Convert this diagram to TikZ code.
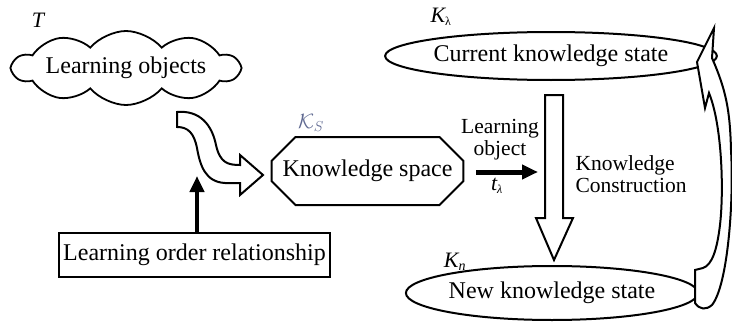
\documentclass[tikz,border=0pt]{standalone}
\usepackage{fontspec}
\setmainfont{Liberation Serif}
\usetikzlibrary{shapes.symbols,shapes.misc,shapes.geometric,arrows.meta}
\definecolor{ksblue}{RGB}{95,105,145}
\begin{document}
\begin{tikzpicture}[x=1pt,y=-1pt,
  maintext/.style={font=\fontsize{24}{28}\selectfont},
  smalltext/.style={font=\fontsize{21.5}{24}\selectfont},
  lbl/.style={font=\fontsize{22}{24}\selectfont\itshape},
  hollow/.style={draw=black,line width=2pt,fill=white,line join=miter},
  solidarrow/.style={line width=4pt,-{Triangle[length=16pt,width=14pt]}},
]
\useasboundingbox (0,0) rectangle (732,324);

% cloud
\node[cloud, cloud puffs=10, cloud puff arc=100, cloud ignores aspect,
      draw, line width=1.8pt, minimum width=226pt, minimum height=74pt,
      inner sep=0pt, maintext] (lo) at (126,68) {Learning objects};
\node[lbl] (tl) at (38,20) {T};

% knowledge space
\node[chamfered rectangle, chamfered rectangle xsep=13pt, chamfered rectangle ysep=13pt,
      draw, line width=2pt, minimum width=185pt, minimum height=68pt,
      inner sep=0pt, maintext] (ks) at (367.5,171) {Knowledge space};
\node[font=\fontsize{22}{24}\selectfont, text=ksblue] (ksl) at (311,123) {$\mathcal{K}_S$};

% learning order relationship
\node[draw, line width=2pt, minimum width=271pt, minimum height=44pt,
      inner sep=0pt, maintext] (lor) at (194.5,255) {Learning order relationship};
\coordinate (uptip) at (197,176);
\draw[solidarrow] (lor.north -| uptip) -- (uptip);

% curved hollow arrow
\draw[hollow] (177,112) .. controls (200,110) and (212,125) .. (216,145)
  .. controls (220,163) and (228,165) .. (240,165) -- (240,155) -- (263,175)
  -- (240,195) -- (240,183) -- (225,183)
  .. controls (205,182) and (200,165) .. (197,148)
  .. controls (194,133) and (188,127) .. (177,127) -- cycle;

% learning object arrow
\coordinate (lotip) at (538,172);
\draw[solidarrow, line width=5pt] ([xshift=12pt]ks.east |- lotip) -- (lotip);
\node[smalltext, align=center] (lotxt) at (500,140) {Learning\\[-2pt]object};
\node[lbl] (tlam) at (497,186) {t\textsubscript{\fontsize{12}{12}\selectfont λ}};

% ellipses
\node[ellipse, draw, line width=2pt, minimum width=253pt, minimum height=48pt,
      inner sep=0pt, maintext] (cur) at (551,56) {Current knowledge state};
\node[lbl] (kl) at (441,17) {K\textsubscript{\fontsize{12}{12}\selectfont\upshape λ}};
\node[ellipse, draw, line width=2pt, minimum width=255pt, minimum height=54pt,
      inner sep=0pt, maintext] (new) at (552,293) {New knowledge state};
\node[lbl] (kn) at (455,262) {K\textsubscript{\fontsize{14}{14}\selectfont n}};

% hollow down arrow
\draw[hollow] (545,95) -- (563,95) -- (563,218) -- (573,218) -- (554,260)
  -- (536,218) -- (545,218) -- cycle;
\node[smalltext, align=left, anchor=west] (kc) at (572,174) {Knowledge\\[-2pt]Construction};

% right curved arrow
\draw[hollow] (695,270) -- (695,303) .. controls (700,310) and (706,310) .. (712,305)
  .. controls (728,285) and (734,200) .. (731,150)
  .. controls (730,110) and (726,90) .. (712,58) -- (714,28) -- (697,62)
  -- (705,108) -- (709,93)
  .. controls (722,125) and (724,190) .. (720,225)
  .. controls (717,250) and (712,265) .. (703,268) -- cycle;
\end{tikzpicture}
\end{document}
